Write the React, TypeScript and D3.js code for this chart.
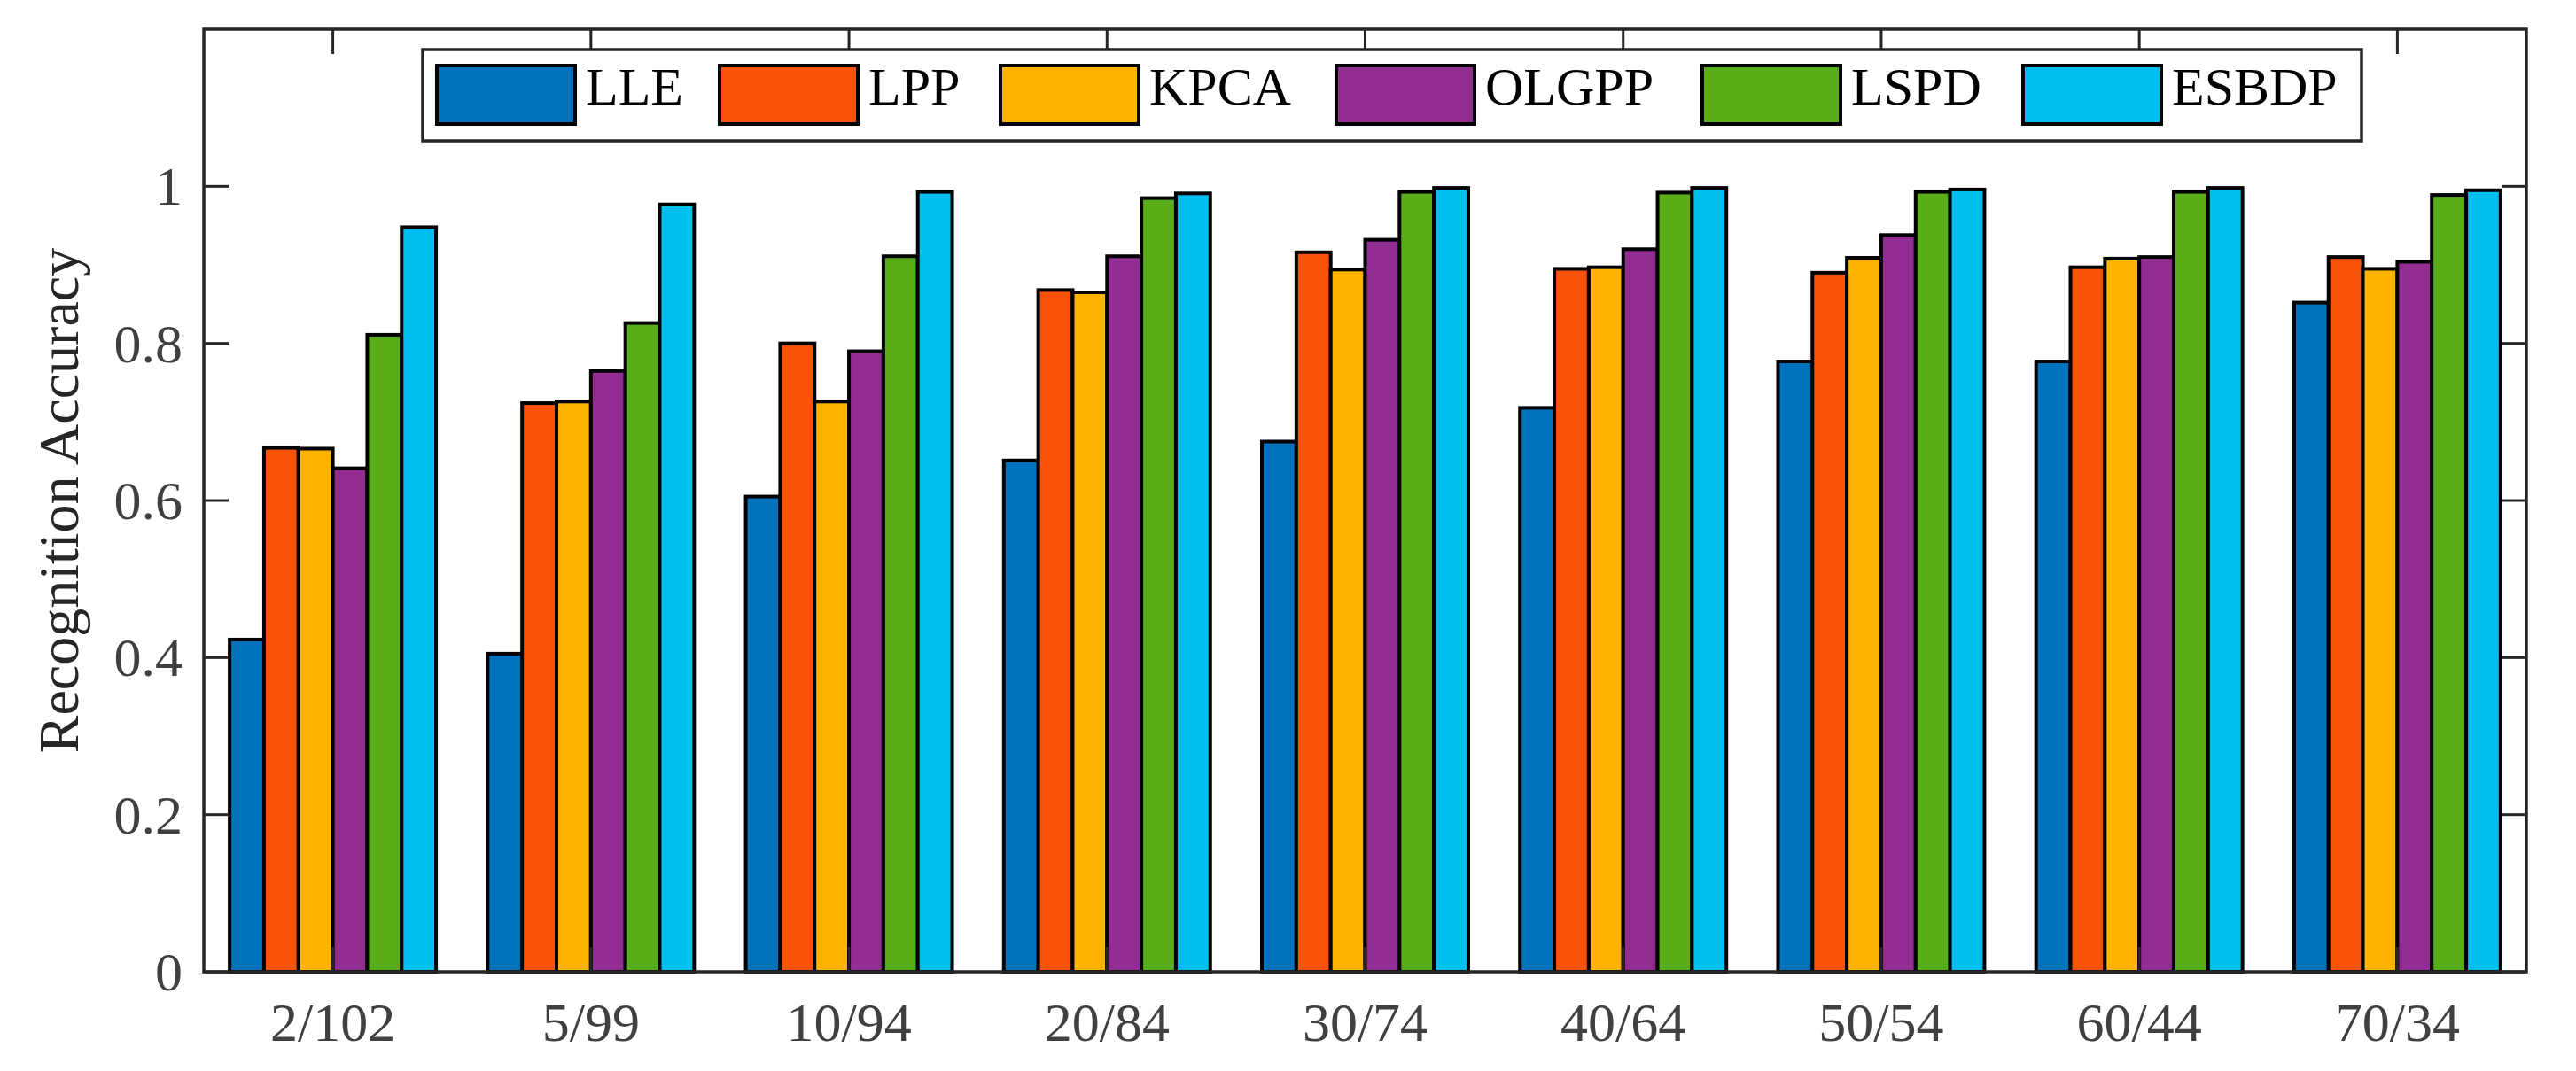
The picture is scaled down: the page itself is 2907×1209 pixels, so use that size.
import * as d3 from "d3";
import React from "react";

const categories = ["2/102", "5/99", "10/94", "20/84", "30/74", "40/64", "50/54", "60/44", "70/34"];
const methods = ["LLE", "LPP", "KPCA", "OLGPP", "LSPD", "ESBDP"];
const colors = ["#0072BD", "#F9530B", "#FEB301", "#912C91", "#58AD19", "#01BEF0"];

const lle = [0.423, 0.405, 0.605, 0.651, 0.675, 0.718, 0.777, 0.777, 0.852];
const lpp = [0.667, 0.724, 0.8, 0.868, 0.916, 0.895, 0.89, 0.897, 0.91];
const kpca = [0.666, 0.726, 0.726, 0.865, 0.894, 0.897, 0.909, 0.908, 0.895];
const olgpp = [0.641, 0.765, 0.79, 0.911, 0.932, 0.92, 0.938, 0.91, 0.904];
const lspd = [0.811, 0.826, 0.911, 0.985, 0.993, 0.992, 0.993, 0.993, 0.989];
const esbdp = [0.948, 0.977, 0.993, 0.991, 0.998, 0.998, 0.996, 0.998, 0.995];
const series = [lle, lpp, kpca, olgpp, lspd, esbdp];

const yTicks = [0, 0.2, 0.4, 0.6, 0.8, 1];
const yTickLabels = ["0", "0.2", "0.4", "0.6", "0.8", "1"];
const yLabel = "Recognition Accuracy";

const W = 2907;
const H = 1209;
const m = { left: 230, right: 56, top: 33, bottom: 112 };
const FONT = "'Liberation Serif', 'Times New Roman', serif";
const AXIS = "#262626";
const TICK = 28;

// legend layout (left edge of each swatch)
const legendX = [493, 812, 1129, 1508, 1921, 2283];

const App: React.FC = () => {
  const x0 = m.left;
  const x1 = W - m.right;
  const y0 = H - m.bottom;
  const y1 = m.top;

  const x = d3.scaleBand<string>().domain(categories).range([x0, x1]).paddingInner(0.2).paddingOuter(0.1);
  const step = x.step();
  const xInner = d3
    .scaleBand<string>()
    .domain(methods)
    .range([-step * 0.4, step * 0.4]);
  const y = d3.scaleLinear().domain([0, 1.2]).range([y0, y1]);

  return (
    <svg width={W} height={H} style={{ display: "block", background: "#fff" }}>
      <style>{`body{margin:0}`}</style>
      {/* bars */}
      {categories.map((c, i) => {
        const cx = (x(c) as number) + x.bandwidth() / 2;
        return (
          <g key={c}>
            {methods.map((mName, j) => (
              <rect
                key={mName}
                x={cx + (xInner(mName) as number)}
                y={y(series[j][i])}
                width={xInner.bandwidth()}
                height={y(0) - y(series[j][i])}
                fill={colors[j]}
                stroke="#000"
                strokeWidth={4}
              />
            ))}
          </g>
        );
      })}

      {/* axes box and ticks */}
      <rect x={x0} y={y1} width={x1 - x0} height={y0 - y1} fill="none" stroke={AXIS} strokeWidth={3.5} />
      {categories.map((c) => {
        const cx = (x(c) as number) + x.bandwidth() / 2;
        return (
          <g key={"xt" + c}>
            <line x1={cx} x2={cx} y1={y0} y2={y0 - TICK} stroke={AXIS} strokeWidth={3} />
            <line x1={cx} x2={cx} y1={y1} y2={y1 + TICK} stroke={AXIS} strokeWidth={3} />
            <text
              x={cx}
              y={y0 + 78}
              textAnchor="middle"
              fontFamily={FONT}
              fontSize={62}
              fill="#404040"
            >
              {c}
            </text>
          </g>
        );
      })}
      {yTicks.map((t, i) => (
        <g key={"yt" + t}>
          <line x1={x0} x2={x0 + TICK} y1={y(t)} y2={y(t)} stroke={AXIS} strokeWidth={3} />
          <line x1={x1} x2={x1 - TICK} y1={y(t)} y2={y(t)} stroke={AXIS} strokeWidth={3} />
          <text
            x={x0 - 24}
            y={y(t)}
            dy="0.34em"
            textAnchor="end"
            fontFamily={FONT}
            fontSize={62}
            fill="#404040"
          >
            {yTickLabels[i]}
          </text>
        </g>
      ))}
      <text
        transform={`translate(${88},${(y0 + y1) / 2}) rotate(-90)`}
        textAnchor="middle"
        fontFamily={FONT}
        fontSize={64}
        fill="#262626"
      >
        {yLabel}
      </text>

      {/* legend */}
      <rect x={477} y={56} width={2188} height={103} fill="#fff" stroke={AXIS} strokeWidth={3.5} />
      {methods.map((mName, j) => (
        <g key={"lg" + mName}>
          <rect x={legendX[j]} y={74} width={156} height={66} fill={colors[j]} stroke="#000" strokeWidth={4} />
          <text x={legendX[j] + 168} y={118} fontFamily={FONT} fontSize={60} fill="#000">
            {mName}
          </text>
        </g>
      ))}
    </svg>
  );
};

export default App;
